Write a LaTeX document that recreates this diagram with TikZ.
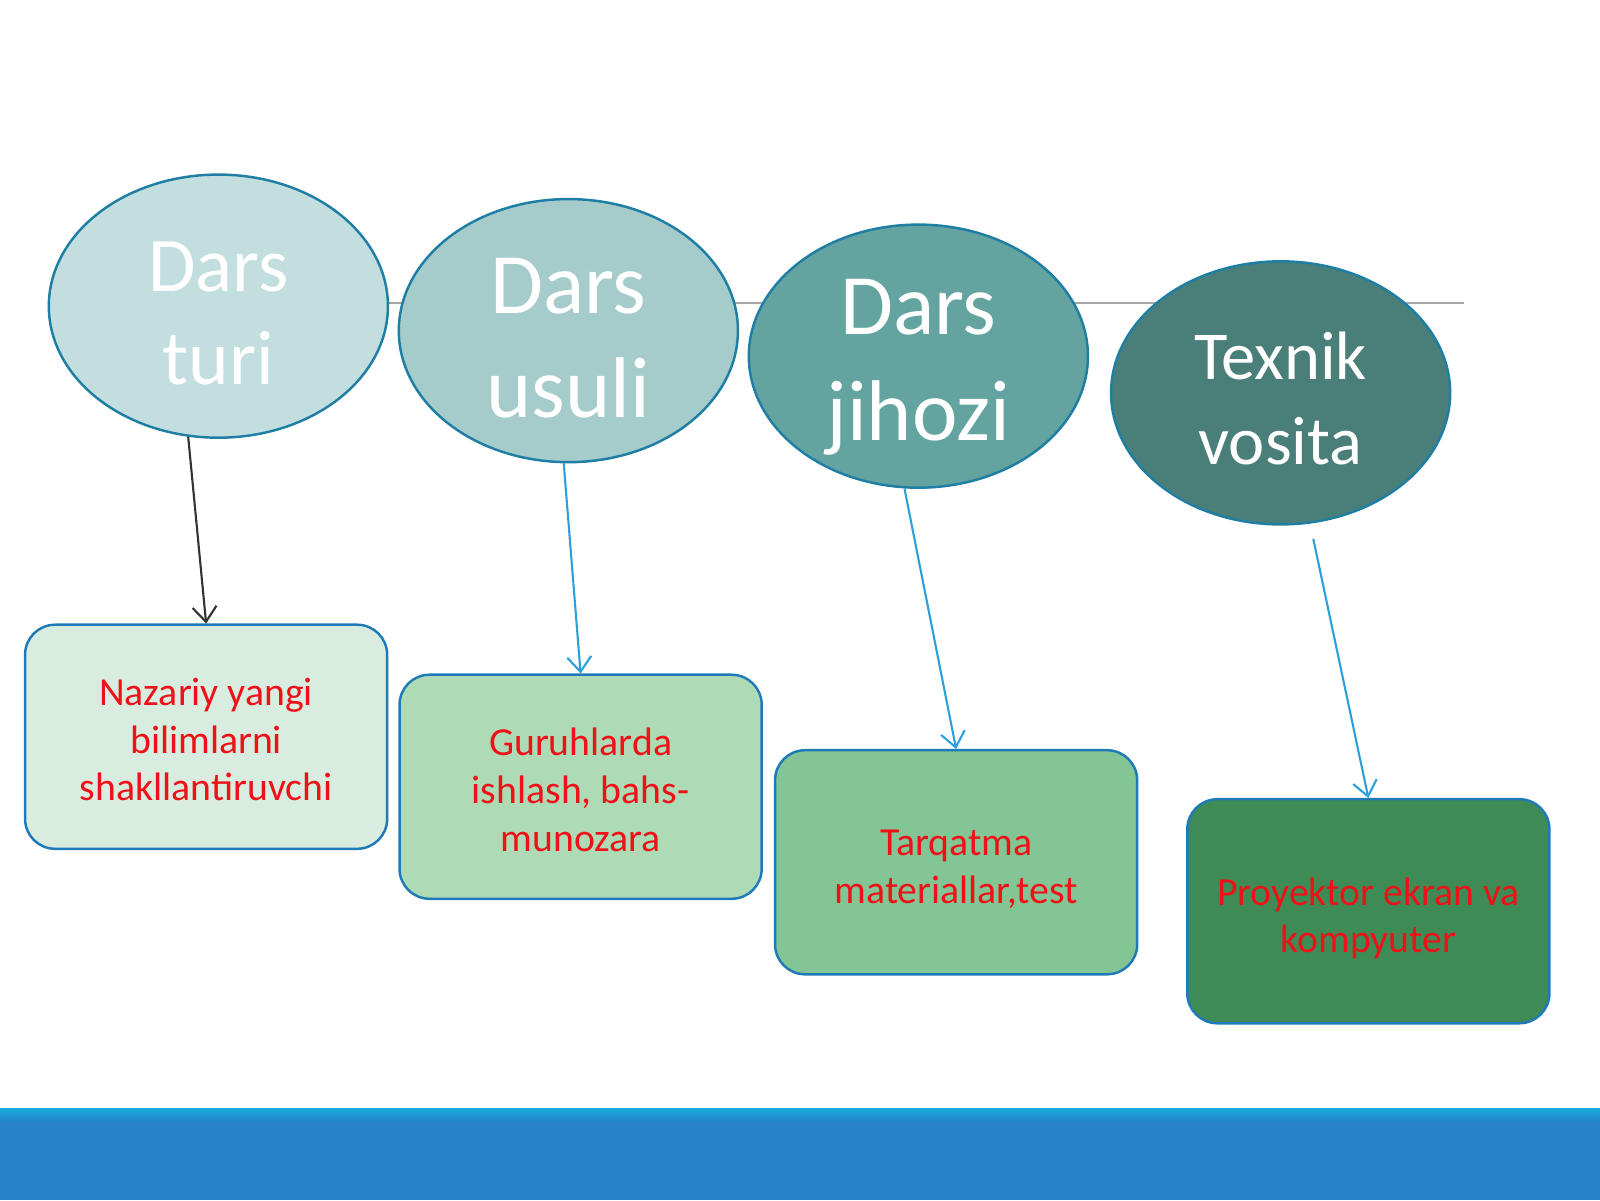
\documentclass[tikz,border=0pt]{standalone}
\usepackage{fontspec}
\setmainfont{Carlito}
\usetikzlibrary{shapes.geometric,arrows.meta}
\definecolor{ovalline}{HTML}{1F7EA3}
\definecolor{cardline}{HTML}{1F7BB8}
\definecolor{cardtext}{HTML}{F01018}
\definecolor{linkblue}{HTML}{2DA0DC}
\definecolor{linkdark}{HTML}{333333}
\definecolor{fillA}{HTML}{C2DEDE}
\definecolor{fillB}{HTML}{A5CBCB}
\definecolor{fillC}{HTML}{63A3A0}
\definecolor{fillD}{HTML}{4A7E79}
\definecolor{cardA}{HTML}{D8ECDF}
\definecolor{cardB}{HTML}{AEDAB5}
\definecolor{cardC}{HTML}{83C594}
\definecolor{cardD}{HTML}{3F8B56}
\definecolor{barblue}{HTML}{2783C5}
\definecolor{barcyan}{HTML}{18AADE}

\begin{document}
\begin{tikzpicture}[x=0.102mm,y=-0.102mm,
  oval/.style={ellipse,draw=ovalline,line width=0.7pt,minimum width=33.9mm,
    minimum height=26.3mm,inner sep=0pt,text=white,align=center},
  card/.style={rectangle,rounded corners=3mm,draw=cardline,line width=0.7pt,
    minimum width=36.2mm,minimum height=22.4mm,align=center,text=cardtext,
    font=\fontsize{11.3}{13.6}\selectfont},
  link/.style={-{Straight Barb[length=1.5mm,width=2.4mm]},line width=0.6pt,draw=linkblue}]
\useasboundingbox (0,0) rectangle (1568,1176);
% grey rule behind the ovals
\coordinate (L) at (380,297);
\coordinate (R) at (1435,297);
\draw[gray!70,line width=0.6pt] (L)--(R);
% ovals
\node[oval,fill=fillA,text height=44.8pt,font=\fontsize{22}{26.6}\selectfont] (turi) at (214,300) {Dars\\turi};
\node[oval,fill=fillB,text height=49.4pt,font=\fontsize{24.5}{29.6}\selectfont] (usuli) at (557,324) {Dars\\usuli};
\node[oval,fill=fillC,text height=47.8pt,text depth=0pt,font=\fontsize{24.5}{30}\selectfont] (jihozi) at (900,349) {Dars\\jihozi};
\node[oval,fill=fillD,text height=40.7pt,font=\fontsize{19.5}{24.1}\selectfont] (texnik) at (1255,385) {Texnik\\vosita};
% cards
\node[card,fill=cardA,text height=36.6pt] (nazariy) at (202,722) {Nazariy yangi\\bilimlarni\\shakllantiruvchi};
\node[card,fill=cardB,text height=36.8pt] (guruh) at (569,771) {Guruhlarda\\ishlash, bahs-\\munozara};
\node[card,fill=cardC,text height=24.9pt] (tarqatma) at (937,845) {Tarqatma\\materiallar,test};
\node[card,fill=cardD,text height=25.5pt] (proyektor) at (1341,893) {Proyektor ekran va\\kompyuter};
% arrows
\coordinate (T) at (1287,528);
\draw[link,draw=linkdark] (turi.257)--(nazariy.north);
\draw[link] (usuli.268)--(guruh.north);
\draw[link] (jihozi.264)--(tarqatma.north);
\draw[link] (T)--(proyektor.north);
% bottom bar
\fill[barblue] (0,1095) rectangle (1568,1176);
\shade[top color=barcyan,bottom color=barblue] (0,1086) rectangle (1568,1100);
\end{tikzpicture}
\end{document}
